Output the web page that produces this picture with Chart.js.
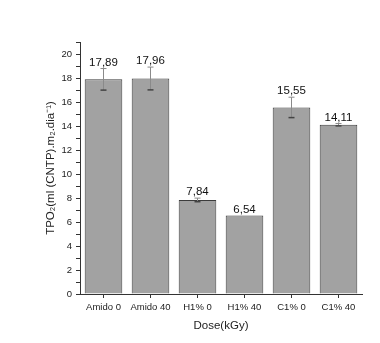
<!DOCTYPE html>
<html>
<head>
<meta charset="utf-8">
<script src="https://cdn.jsdelivr.net/npm/chart.js@4"></script>
<style>
  html, body { margin: 0; padding: 0; background: #fff; }
  #wrap { width: 380px; height: 343px; position: relative; }
</style>
</head>
<body>
<div id="wrap"><canvas id="c" width="380" height="343"></canvas></div>
<script>
const categories = ["Amido 0", "Amido 40", "H1% 0", "H1% 40", "C1% 0", "C1% 40"];
const tpoValues = [17.89, 17.96, 7.84, 6.54, 15.55, 14.11];
const tpoErrors = [0.9, 0.95, 0.15, 0, 0.85, 0.1];

const fmt = (v) => v.toFixed(2).replace(".", ",");
const FONT = "'Liberation Sans', Arial, sans-serif";

// error bars + value labels drawn through the y scale
const barExtras = {
    id: "barExtras",
    afterDatasetsDraw(chart) {
        const ctx = chart.ctx;
        const y = chart.scales.y;
        const meta = chart.getDatasetMeta(0);
        ctx.save();
        meta.data.forEach((bar, i) => {
            const v = tpoValues[i], e = tpoErrors[i];
            const x = bar.x;
            if (e > 0) {
                const yHi = y.getPixelForValue(v + e);
                const yLo = y.getPixelForValue(v - e);
                ctx.strokeStyle = "#8a8a8a";
                ctx.lineWidth = 1;
                ctx.beginPath();
                ctx.moveTo(x, yHi); ctx.lineTo(x, yLo);
                ctx.moveTo(x - 3, yHi); ctx.lineTo(x + 3, yHi);
                ctx.stroke();
                ctx.strokeStyle = "#444";
                ctx.lineWidth = 1.5;
                ctx.beginPath();
                ctx.moveTo(x - 3, yLo); ctx.lineTo(x + 3, yLo);
                ctx.stroke();
            }
            ctx.fillStyle = "#111";
            ctx.font = "11.5px " + FONT;
            ctx.textAlign = "center";
            ctx.textBaseline = "middle";
            ctx.fillText(fmt(v), x, y.getPixelForValue(v + e) - 6);
        });
        ctx.restore();
    }
};

new Chart(document.getElementById("c"), {
    type: "bar",
    data: {
        labels: categories,
        datasets: [{
            data: tpoValues,
            backgroundColor: "#a2a2a2",
            borderColor: "#3c3c3c",
            borderWidth: 1,
            categoryPercentage: 1,
            barPercentage: 0.8,
        }]
    },
    plugins: [barExtras],
    options: {
        responsive: false,
        animation: false,
        layout: { padding: { top: 42, right: 18, left: 0, bottom: 10 } },
        plugins: { legend: { display: false }, tooltip: { enabled: false } },
        scales: {
            x: {
                afterFit: (s) => { s.height = 39; },
                border: { color: "#333", width: 1 },
                grid: { display: true, drawOnChartArea: false, tickLength: 4, color: "#333", offset: false },
                ticks: { color: "#222", padding: 4, font: { size: 9.5, family: FONT } },
                title: { display: true, text: "Dose(kGy)", color: "#222", padding: { top: 0, bottom: 0 },
                         font: { size: 11.5, family: FONT } }
            },
            y: {
                min: 0, max: 21,
                afterFit: (s) => { s.width = 80; },
                border: { color: "#333", width: 1 },
                grid: { display: true, drawOnChartArea: false, tickLength: 4, color: "#333" },
                ticks: {
                    stepSize: 1, autoSkip: false, padding: 4, color: "#222",
                    font: { size: 9.5, family: FONT },
                    callback: (v) => (v % 2 === 0 && v <= 20 ? v : "")
                },
                title: { display: true, text: "TPO₂(ml (CNTP).m₂.dia⁻¹)", color: "#222",
                         padding: { top: 44, bottom: 0 },
                         font: { size: 11.5, family: FONT } }
            }
        }
    }
});
</script>
</body>
</html>
